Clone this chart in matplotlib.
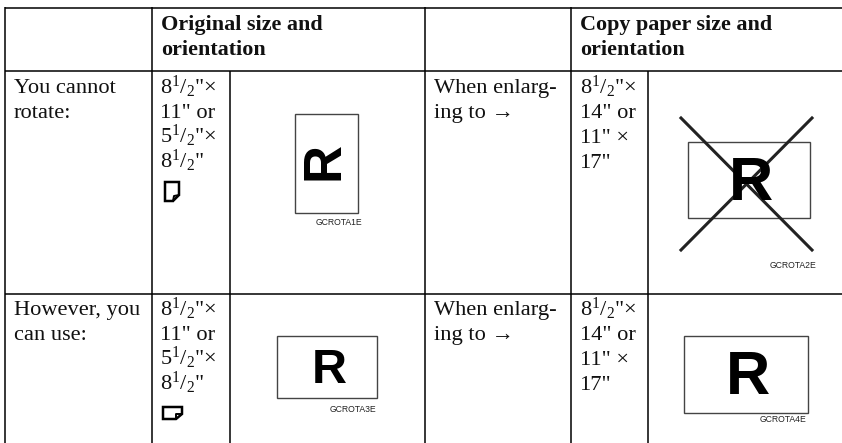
import matplotlib
matplotlib.use('Agg')
import matplotlib.pyplot as plt
from matplotlib.patches import Rectangle, Polygon

plt.rcParams['font.family'] = ['Liberation Serif', 'DejaVu Serif']
plt.rcParams['mathtext.fontset'] = 'custom'
plt.rcParams['mathtext.rm'] = 'Liberation Serif'
plt.rcParams['mathtext.default'] = 'rm'

# table text, one list per column
headers = ['Original size and\norientation', 'Copy paper size and\norientation']
row_labels = [['You cannot', 'rotate:'], ['However, you', 'can use:']]
enlarge_text = ['When enlarg-', 'ing to \u2192']
half = '$^{1}$/$_{2}$"'
original_sizes = ['8' + half + '\u00d7', '11" or', '5' + half + '\u00d7', '8' + half]
copy_sizes = ['8' + half + '\u00d7', '14" or', '11" \u00d7', '17"']
image_codes = ['GCROTA1E', 'GCROTA2E', 'GCROTA3E', 'GCROTA4E']

fig = plt.figure(figsize=(8.42, 4.43), dpi=100)
ax = fig.add_axes([0, 0, 1, 1])
ax.set_xlim(0, 842)
ax.set_ylim(443, 0)
ax.axis('off')

# grid lines
for y in [8, 70.5, 293.5]:
    ax.plot([5, 842], [y, y], color='black', lw=1.1, solid_capstyle='butt')
for x in [5, 152, 424.5, 571]:
    ax.plot([x, x], [7, 443], color='black', lw=1.1, solid_capstyle='butt')
for x in [229.5, 648]:
    ax.plot([x, x], [70.5, 443], color='black', lw=1.1, solid_capstyle='butt')


def lines(x, baselines, items, size=16.1, **kw):
    for b, s in zip(baselines, items):
        ax.text(x, b, s, fontsize=size, color='#111111', va='baseline', ha='left', **kw)


lines(161, [30, 55], headers[0].split('\n'), size=15.9, fontweight='bold')
lines(580, [30, 55], headers[1].split('\n'), size=15.9, fontweight='bold')

lines(14, [93, 118], row_labels[0])
lines(14, [315, 340], row_labels[1])
lines(434, [93, 118], enlarge_text)
lines(434, [315, 340], enlarge_text)
lines(160, [94, 118, 143, 168], original_sizes)
lines(160, [316, 340, 365, 390], original_sizes)
lines(580, [94, 118, 143, 168], copy_sizes)
lines(580, [316, 340, 365, 390], copy_sizes)

# orientation icons
ax.add_patch(Polygon([(165, 182), (179, 182), (179, 195), (173, 201), (165, 201)],
                     closed=True, fill=False, ec='black', lw=1.8))
ax.plot([173, 174, 179], [201, 196, 195], color='black', lw=1.4)
ax.add_patch(Polygon([(163, 407), (182, 407), (182, 414), (176, 419), (163, 419)],
                     closed=True, fill=False, ec='black', lw=1.8))
ax.plot([176, 176, 182], [419, 414, 414], color='black', lw=1.4)


# paper sheets with the letter R
def sheet(x0, x1, y0, y1, rx, ry, size, rot=0):
    ax.add_patch(Rectangle((x0, y0), x1 - x0, y1 - y0, fill=False, ec='#444444', lw=1.0))
    ax.text(rx, ry, 'R', family='Liberation Sans', fontweight='bold', fontsize=size,
            rotation=rot, ha='center', va='center_baseline', color='black')


sheet(295, 358, 114, 213, 325, 162, 38, 90)
sheet(688, 810, 142, 218, 751, 178.5, 44)
sheet(277, 377, 336, 398, 329, 365.5, 35)
sheet(684, 808, 336, 413, 748.5, 372.5, 44)

# crossed out copy
ax.plot([681, 812], [118, 250], color='#222222', lw=2.2)
ax.plot([812, 681], [118, 250], color='#222222', lw=2.2)

for code, cx, cy in zip(image_codes, [339, 793, 353, 783], [222, 265, 409, 420]):
    ax.text(cx, cy, code, family='Liberation Sans', fontsize=6.2, ha='center', va='center',
            color='#222222')

fig.savefig('out.png', dpi=100)
